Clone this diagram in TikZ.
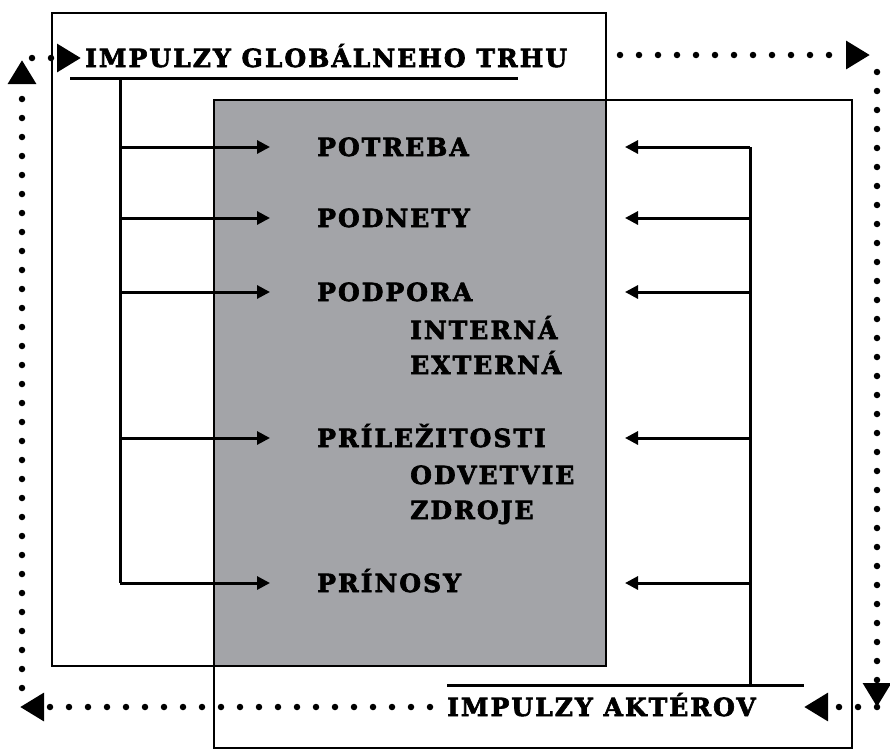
\documentclass[tikz,border=0pt]{standalone}
\usepackage{fontspec}
\newfontfamily\stencil[LetterSpace=8,FakeBold=2.5]{DejaVu Serif}
\usetikzlibrary{arrows.meta}
\usetikzlibrary{positioning}
\definecolor{boxgray}{RGB}{163,164,168}

\begin{document}
\begin{tikzpicture}[x=1pt,y=-1pt,
  lbl/.style={font=\stencil\bfseries\fontsize{25}{27}\selectfont,inner sep=0pt,text height=18pt,text depth=0pt,anchor=west},
  frame/.style={line width=2.2pt},
  bar/.style={line width=3pt},
  feed/.style={line width=3pt,-{Triangle[length=13pt,width=13pt]}},
  dotarrow/.style={line width=6.5pt,line cap=round,dash pattern=on 0pt off 19pt,-{Triangle[length=24pt,width=27pt]}}]
\useasboundingbox (0,0) rectangle (890,750);
\fill[boxgray] (214,100) rectangle (606,666);
\draw[frame] (52,13) rectangle (606,666);
\draw[frame] (214,100) rectangle (852,748);

\node[lbl] (glob) at (85,58) {IMPULZY GLOBÁLNEHO TRHU};
\node[lbl] (akt) at (447,707) {IMPULZY AKTÉROV};

\node[lbl] (potreba) at (317,147) {POTREBA};
\node[lbl] (podnety) at (317,218) {PODNETY};
\node[lbl] (podpora) at (317,292) {PODPORA};
\node[lbl] (interna) at (410,330) {INTERNÁ};
\node[lbl] (externa) at (410,365) {EXTERNÁ};
\node[lbl] (prilez) at (317,438) {PRÍLEŽITOSTI};
\node[lbl] (odvetvie) at (410,475) {ODVETVIE};
\node[lbl] (zdroje) at (410,510) {ZDROJE};
\node[lbl] (prinosy) at (317,583) {PRÍNOSY};

% globalny trh
\coordinate (ul1) at (70,78);
\coordinate (ul2) at (518,78);
\coordinate (ltrunk) at (120,78);
\coordinate (ltip) at (270,0);
\draw[bar] (ul1) -- (ul2);
\draw[bar] (ltrunk) -- (ltrunk |- prinosy.west);
\foreach \n in {potreba,podnety,podpora,prilez,prinosy}
  \draw[feed] (ltrunk |- \n.west) -- (ltip |- \n.west);

% akteri
\coordinate (al1) at (447,685);
\coordinate (al2) at (804,685);
\coordinate (rtrunk) at (750,685);
\coordinate (rtip) at (625,0);
\draw[bar] (al1) -- (al2);
\draw[bar] (rtrunk) -- (rtrunk |- potreba.west);
\foreach \n in {potreba,podnety,podpora,prilez,prinosy}
  \draw[feed] (rtrunk |- \n.west) -- (rtip |- \n.west);

% okruh impulzov
\coordinate (gr) at (620,55);
\coordinate (trt) at (870,55);
\coordinate (rt) at (877,72);
\coordinate (rb) at (877,707);
\coordinate (bl) at (20,707);
\coordinate (lb) at (22,688);
\coordinate (lt) at (22,60);
\coordinate (tl) at (32,58);
\draw[dotarrow] (gr) -- (trt);
\draw[dotarrow] (rt) -- (rb);
\draw[dotarrow,shorten >=48pt] (rb) -- (akt.east);
\draw[dotarrow] ([xshift=-17pt]akt.west) -- (bl);
\draw[dotarrow] (lb) -- (lt);
\draw[dotarrow,shorten >=4pt] (tl) -- (glob.west);
\end{tikzpicture}
\end{document}
